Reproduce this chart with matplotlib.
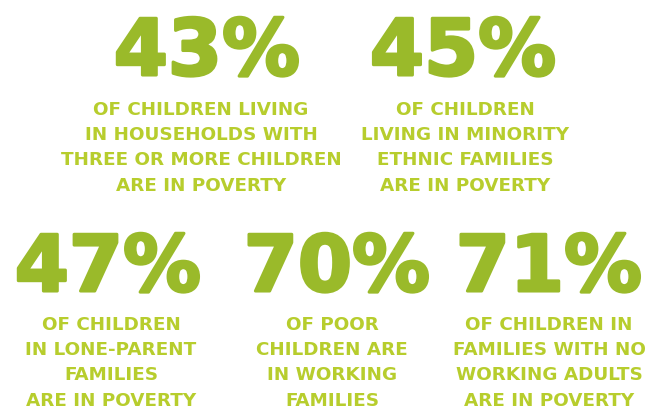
import matplotlib.pyplot as plt
import matplotlib.patheffects as pe

stats = ["43%", "45%", "47%", "70%", "71%"]
captions = [
    ["OF CHILDREN LIVING", "IN HOUSEHOLDS WITH", "THREE OR MORE CHILDREN", "ARE IN POVERTY"],
    ["OF CHILDREN", "LIVING IN MINORITY", "ETHNIC FAMILIES", "ARE IN POVERTY"],
    ["OF CHILDREN", "IN LONE-PARENT", "FAMILIES", "ARE IN POVERTY"],
    ["OF POOR", "CHILDREN ARE", "IN WORKING", "FAMILIES"],
    ["OF CHILDREN IN", "FAMILIES WITH NO", "WORKING ADULTS", "ARE IN POVERTY"],
]

# layout (pixel coords)
num_x = [207, 463, 108, 337, 549]
cap_x = [201, 465, 111, 332, 549]
num_base = [76, 76, 292, 292, 292]
cap_top = [108, 108, 323, 323, 323]
line_gap = 25.2

num_color = "#9aba2a"
cap_color = "#b7cd2d"

fig = plt.figure(figsize=(6.46, 4.10), dpi=100)
ax = fig.add_axes([0, 0, 1, 1])
ax.set_xlim(0, 646)
ax.set_ylim(410, 0)
ax.axis("off")

thick = [pe.withStroke(linewidth=2.2, foreground=num_color)]
for i, (num, lines) in enumerate(zip(stats, captions)):
    ax.text(num_x[i], num_base[i], num, ha="center", va="baseline",
            fontsize=56, fontweight="bold", family="DejaVu Sans",
            color=num_color, path_effects=thick)
    for j, line in enumerate(lines):
        ax.text(cap_x[i], cap_top[i] + j * line_gap, line, ha="center",
                va="center_baseline", fontsize=13.2, fontweight="bold",
                family="DejaVu Sans", color=cap_color)

fig.savefig("out.png", dpi=100)
